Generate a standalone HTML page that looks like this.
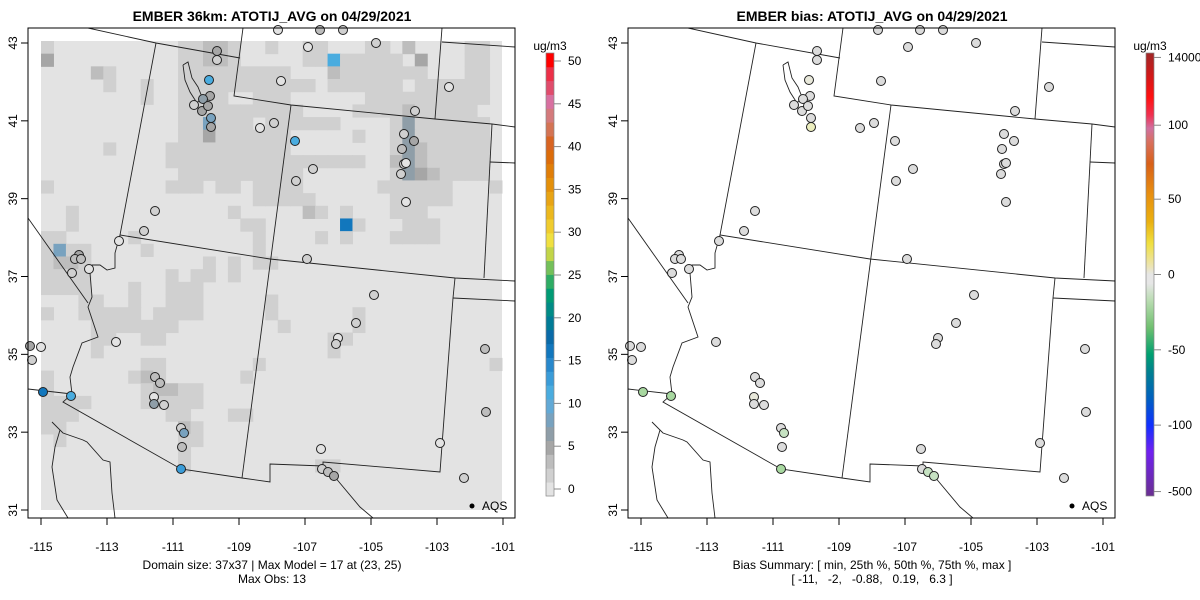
<!DOCTYPE html>
<html><head><meta charset="utf-8"><style>
html,body{margin:0;padding:0;background:#fff;}
svg{display:block;font-family:"Liberation Sans",sans-serif;}
</style></head><body>
<svg id="chart" width="1200" height="600" viewBox="0 0 1200 600" xmlns="http://www.w3.org/2000/svg">
<defs>
<clipPath id="clipL"><rect x="28" y="28" width="487" height="490"/></clipPath>
<linearGradient id="biasGrad" x1="0" y1="0" x2="0" y2="1">
<stop offset="0" stop-color="#a02828"/><stop offset="0.05" stop-color="#d01818"/><stop offset="0.1" stop-color="#ff1010"/>
<stop offset="0.14" stop-color="#f03050"/><stop offset="0.17" stop-color="#d070a0"/><stop offset="0.2" stop-color="#d87060"/>
<stop offset="0.25" stop-color="#d86018"/><stop offset="0.32" stop-color="#e89010"/><stop offset="0.38" stop-color="#eab010"/>
<stop offset="0.43" stop-color="#f0e040"/><stop offset="0.48" stop-color="#ece4b0"/><stop offset="0.5" stop-color="#e6e6e6"/>
<stop offset="0.52" stop-color="#e6e6e6"/><stop offset="0.56" stop-color="#b8dcb0"/><stop offset="0.62" stop-color="#70c070"/>
<stop offset="0.68" stop-color="#00a070"/><stop offset="0.72" stop-color="#008090"/><stop offset="0.78" stop-color="#0060c0"/>
<stop offset="0.84" stop-color="#1030ff"/><stop offset="0.9" stop-color="#7020f0"/><stop offset="1" stop-color="#6a3090"/>
</linearGradient>
</defs>
<g id="leftPanel"></g>
<g id="rightPanel"></g>
</svg>
<script>
const NS="http://www.w3.org/2000/svg";
// ---- data ----
const lonTicks=[-115,-113,-111,-109,-107,-105,-103,-101];
const latTicks=[43,41,39,37,35,33,31];
const modelTicks=[0,5,10,15,20,25,30,35,40,45,50];
const biasTickLabels=["14000","100","50","0","-50","-100","-500"];
const biasTickFrac=[0.01,0.163,0.33,0.5,0.67,0.84,0.99];
const palette=["#e3e3e3","#d0d0d0","#bdbdbd","#a6a6a6","#8f9ea8","#78a2bf","#62a9d6","#4aacdf","#3a9cd8","#2888cc","#1277bd","#0a6aa8","#007b96","#008b86","#009a74","#2eac64","#74c05a","#c2d548","#f0e040","#f0cc2e","#ecb81e","#e8a414","#e4900a","#e07e08","#dc6c0a","#d86422","#d47454","#d47a7c","#d870a0","#e04c6c","#ec3048","#ff0000"];
const levelValues={"1":2.5,"2":4,"3":5.5,"a":8.5,"b":12,"c":17,"d":7};
const gridRuns=[
[[0,0,"1"],[11,12,"1"],[13,14,"2"],[15,15,"1"],[18,18,"1"],[21,22,"1"],[26,27,"1"],[29,29,"2"],[34,35,"1"]],
[[0,0,"3"],[11,12,"1"],[13,14,"2"],[15,15,"1"],[21,22,"1"],[23,23,"b"],[24,28,"1"],[30,30,"3"],[34,35,"1"]],
[[4,4,"2"],[5,5,"1"],[11,19,"1"],[23,23,"2"],[24,30,"1"],[34,35,"1"]],
[[5,5,"1"],[8,8,"1"],[11,21,"1"],[23,28,"1"],[30,35,"1"]],
[[8,8,"1"],[11,14,"1"],[17,19,"1"],[26,35,"1"]],
[[11,20,"1"],[25,28,"1"],[29,29,"2"],[30,34,"1"]],
[[11,12,"1"],[13,13,"a"],[14,16,"1"],[18,23,"1"],[28,28,"1"],[29,29,"d"],[30,35,"1"]],
[[11,12,"1"],[13,13,"3"],[14,19,"1"],[25,25,"1"],[28,28,"1"],[29,29,"d"],[30,35,"1"]],
[[5,5,"1"],[10,19,"1"],[28,28,"1"],[29,29,"d"],[30,30,"2"],[31,35,"1"]],
[[10,25,"1"],[28,28,"2"],[29,29,"d"],[30,30,"2"],[31,35,"1"]],
[[11,20,"1"],[28,28,"1"],[29,29,"d"],[30,30,"3"],[31,31,"2"],[32,35,"1"]],
[[0,0,"1"],[10,12,"1"],[14,15,"1"],[17,20,"1"],[27,32,"1"],[36,36,"1"]],
[[17,21,"1"],[28,32,"1"]],
[[2,2,"1"],[15,15,"1"],[21,21,"2"],[22,22,"1"],[24,24,"1"],[28,30,"1"]],
[[2,2,"1"],[16,17,"1"],[24,24,"c"],[25,25,"1"],[29,31,"1"]],
[[0,1,"1"],[7,7,"1"],[17,17,"1"],[22,22,"1"],[24,24,"1"],[28,31,"1"]],
[[0,0,"1"],[1,1,"a"],[2,3,"1"],[8,8,"1"],[17,17,"1"]],
[[0,0,"1"],[1,2,"2"],[3,3,"1"],[13,13,"1"],[15,15,"1"],[17,18,"1"]],
[[0,3,"1"],[10,10,"1"],[12,13,"1"],[15,15,"1"]],
[[0,3,"1"],[7,7,"1"],[10,12,"1"]],
[[3,4,"1"],[7,7,"1"],[10,12,"1"],[18,18,"1"]],
[[0,0,"1"],[3,7,"1"],[9,12,"1"],[18,18,"1"],[25,25,"1"]],
[[4,10,"1"],[19,19,"1"],[25,25,"1"]],
[[4,5,"1"],[8,9,"1"],[23,24,"1"]],
[[4,4,"1"],[23,23,"1"]],
[[8,9,"1"],[17,17,"1"],[36,36,"1"]],
[[0,0,"1"],[7,7,"1"],[8,8,"2"],[9,9,"1"],[16,16,"1"]],
[[0,0,"1"],[8,8,"1"],[9,10,"2"],[11,12,"1"]],
[[0,3,"1"],[8,12,"1"]],
[[0,2,"1"],[10,11,"1"],[15,16,"1"]],
[[0,1,"1"],[11,11,"2"],[12,12,"1"]],
[[1,1,"1"],[11,12,"1"]],
[[11,11,"1"]],
[[11,11,"1"],[22,23,"1"]],
[],[],[]
];
// site positions (panel pixel coords) with observed value and bias
const siteX=[278,320,343,308,376,217,217,209,210,203,194,202,208,211,211,260,274,281,295,296,155,144,119,79,75,81,72,89,449,415,404,414,402,404,406,401,313,406,307,30,41,32,116,43,71,155,160,154,154,164,181,184,182,181,374,356,338,336,485,486,440,321,322,328,334,464];
const siteY=[30,30,30,47,43,51,60,80,96,99,105,111,106,118,127,128,123,81,141,181,211,231,241,255,259,259,273,269,87,111,134,141,149,164,163,174,169,202,259,346,347,360,342,392,396,377,383,397,404,405,428,433,447,469,295,323,338,344,349,412,443,449,469,472,476,478];
const siteObs=[1,4,3,1,2,5,3,12,6,7,2,5,6,8,6,1,3,1,12,3,2,2,1,5,4,4,3,1,1,2,3,5,4,2,1,3,3,1,2,5,1,3,1,16,12,4,4,0,7,3,2,9,4,13,2,2,1,3,4,4,1,1,3,4,5,3];
const siteBias=[0,0,0,0,0,0,0,0.5,0,0,0,0,0,0,6.3,0,0,0,0,0,0,0,0,0,0,0,0,0,0,0,0,0,0,0,0,0,0,0,0,0,0,0,0,-11,-8,0,0,0.8,0,0,0,-4,0,-9,0,0,0,0,0,0,0,0,0,-3,-3,0];
// map outlines (panel pixel coords)
const mapLines=[
[[88,28],[156,43],[240,58]],
[[243,28],[234,96],[291,105],[435,119],[492,124],[515,127]],
[[442,28],[435,119]],[[442,42],[515,47]],[[490,162],[515,163]],
[[492,124],[484,278]],
[[291,105],[242,478]],
[[156,43],[120,235],[270,259],[455,278],[515,281]],
[[455,278],[453,298],[440,472],[323,462],[323,466],[270,464],[270,482],[242,478],[181,469],[63,402],[72,394],[28,389]],
[[453,298],[515,301]],
[[120,235],[115,253],[115,268],[107,270],[100,265],[92,265],[90,273],[92,297],[88,307],[98,337],[82,343],[73,367],[70,377],[72,394]],
[[28,218],[88,303]],
[[52,422],[60,430],[55,447],[52,467],[57,500],[68,518]],
[[60,430],[63,433],[83,440],[87,442],[103,460],[110,462],[112,493],[115,518]],
[[334,476],[360,507],[373,518]],
[[183,65],[188,62],[192,78],[198,87],[202,97],[197,103],[190,92],[185,80],[183,65]]
];
// ---- helpers ----
const X0=41, X1=503, Y0=43, Y1=510;
const lonX=l=>X0+(l+115)*(X1-X0)/14;
const latY=l=>Y0+(43-l)*(Y1-Y0)/12;
const gX0=41,gY0=41,cw=(502-41)/37,ch=(510-41)/37;
function colorOf(v){let i=Math.floor(v/50*32);if(i<0)i=0;if(i>31)i=31;return palette[i];}
function biasColor(b){if(b>=3)return "#eceebe";if(b>=0.5)return "#e8e8da";if(b>-0.5)return "#dcdcdc";if(b>-5)return "#c6e2c2";return "#a8d8a0";}
function mk(tag,attrs,parent){const e=document.createElementNS(NS,tag);for(const k in attrs)e.setAttribute(k,attrs[k]);parent.appendChild(e);return e;}
function txt(parent,x,y,s,opts){const t=mk("text",Object.assign({x:x,y:y,"font-size":12,fill:"#000"},opts||{}),parent);t.textContent=s;return t;}

function drawPanel(g,off,isModel){
  const L=mk("g",{transform:"translate("+off+",0)"},g);
  if(isModel){
    const gridG=mk("g",{"clip-path":"url(#clipL)"},L);
    
    
    const bg=mk("rect",{x:gX0,y:gY0,width:cw*37,height:ch*37,fill:palette[0]},gridG);
    
    
    gridRuns.forEach((runs,r)=>{runs.forEach(run=>{
      for(let c=run[0];c<=run[1];c++){
        const cell=mk("rect",{x:gX0+c*cw,y:gY0+r*ch,width:cw+0.5,height:ch+0.5,fill:colorOf(levelValues[run[2]])},gridG);
        
        
      }
    });});
  }
  const mapG=mk("g",{"clip-path":"url(#clipL)",fill:"none",stroke:"#222","stroke-width":0.9},L);
  
  
  mapLines.forEach(pl=>{
    const p=mk("polyline",{points:pl.map(q=>q.join(",")).join(" ")},mapG);
    
    
  });
  const ptG=mk("g",{},L);
  
  
  siteX.forEach((x,i)=>{
    const c=mk("circle",{cx:x,cy:siteY[i],r:4.5,fill:isModel?colorOf(siteObs[i]):biasColor(siteBias[i]),stroke:"#222","stroke-width":1},ptG);
    
    
  });
  const box=mk("rect",{x:28,y:28,width:487,height:490,fill:"none",stroke:"#000","stroke-width":1},L);
  
  
  const ax=mk("g",{},L);
  
  
  lonTicks.forEach(l=>{const x=lonX(l);mk("line",{x1:x,y1:518,x2:x,y2:525,stroke:"#000"},ax);txt(ax,x,551,String(l),{"text-anchor":"middle"});});
  const ay=mk("g",{},L);
  
  
  latTicks.forEach(l=>{const y=latY(l);mk("line",{x1:21,y1:y,x2:28,y2:y,stroke:"#000"},ay);txt(ay,0,0,String(l),{"text-anchor":"middle",transform:"translate(17,"+y+") rotate(-90)"});});
  const lg=mk("g",{},L);
  
  
  mk("circle",{cx:472,cy:506,r:2.5,fill:"#000"},lg);
  txt(lg,482,510,"AQS");
  const cb=mk("g",{},L);
  
  
  const top=53,bot=496;
  txt(cb,550,50,"ug/m3",{"text-anchor":"middle"});
  if(isModel){
    const h=(bot-top)/palette.length;
    palette.forEach((col,i)=>{mk("rect",{x:546,y:bot-(i+1)*h,width:8,height:h+0.4,fill:col},cb);});
    mk("rect",{x:546,y:top,width:8,height:bot-top,fill:"none",stroke:"#888","stroke-width":0.7},cb);
    modelTicks.forEach(v=>{const y=489-(489-61)*v/50;mk("line",{x1:554,y1:y,x2:561,y2:y,stroke:"#888"},cb);txt(cb,568,y+4,String(v));});
  } else {
    mk("rect",{x:546,y:top,width:8,height:bot-top,fill:"url(#biasGrad)",stroke:"#888","stroke-width":0.7},cb);
    biasTickLabels.forEach((s,i)=>{const y=top+(bot-top)*biasTickFrac[i];mk("line",{x1:554,y1:y,x2:561,y2:y,stroke:"#888"},cb);txt(cb,568,y+4,s);});
  }
  const title=txt(L,272,21,isModel?"EMBER 36km: ATOTIJ_AVG on 04/29/2021":"EMBER bias: ATOTIJ_AVG on 04/29/2021",{"text-anchor":"middle","font-size":14,"font-weight":"bold"});
  
  
  const s1=txt(L,272,569,isModel?"Domain size: 37x37 | Max Model = 17 at (23, 25)":"Bias Summary: [ min, 25th %, 50th %, 75th %, max ]",{"text-anchor":"middle"});
  
  
  const s2=txt(L,272,583,isModel?"Max Obs: 13":"[ -11,   -2,   -0.88,   0.19,   6.3 ]",{"text-anchor":"middle"});
  s2.setAttribute("style","white-space:pre");
  
  
}
drawPanel(document.getElementById("leftPanel"),0,true);
drawPanel(document.getElementById("rightPanel"),600,false);
</script>
</body></html>
